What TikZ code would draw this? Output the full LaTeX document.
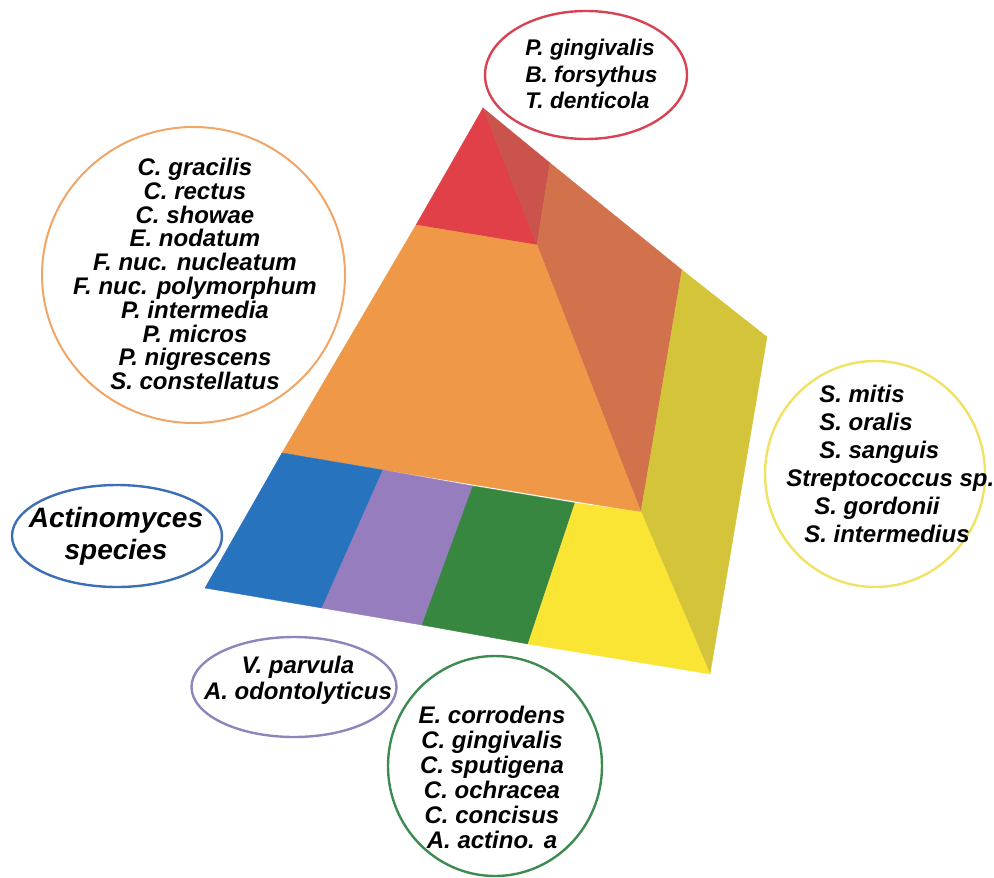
\documentclass[tikz,border=0pt]{standalone}
\usepackage{fontspec}
\setmainfont{Liberation Sans}
\usepackage{tikz}

\definecolor{topRed}{RGB}{225,64,72}
\definecolor{darkRed}{RGB}{202,84,76}
\definecolor{rustBrown}{RGB}{210,114,76}
\definecolor{midOrange}{RGB}{238,152,72}
\definecolor{oliveFace}{RGB}{212,196,58}
\definecolor{baseYellow}{RGB}{250,228,52}
\definecolor{baseBlue}{RGB}{40,115,190}
\definecolor{basePurple}{RGB}{150,125,190}
\definecolor{baseGreen}{RGB}{55,135,65}
\definecolor{ringRed}{RGB}{216,66,82}
\definecolor{ringOrange}{RGB}{241,165,102}
\definecolor{ringYellow}{RGB}{240,226,100}
\definecolor{ringBlue}{RGB}{61,111,182}
\definecolor{ringPurple}{RGB}{143,132,188}
\definecolor{ringGreen}{RGB}{62,139,82}

\begin{document}
\begin{tikzpicture}[x=0.75pt,y=0.75pt,yscale=-1,xscale=1,
  lbl/.style={inner sep=0.75pt, font={\fontsize{18}{#1}\selectfont\bfseries\itshape}},
  ring/.style={line width=1.8pt}]
%set diagram left start at 0, and has height of 877
\useasboundingbox (0,0) rectangle (994,877);

%Shape: Polygon [red top]
\filldraw[fill=topRed,draw=topRed,line width=0.3pt] (483,108) -- (537,245) -- (416,225) -- cycle ;
%Shape: Polygon [dark red top]
\filldraw[fill=darkRed,draw=darkRed,line width=0.3pt] (483,108) -- (550,163) -- (537,245) -- cycle ;
%Shape: Polygon [brown side]
\filldraw[fill=rustBrown,draw=rustBrown,line width=0.3pt] (550,163) -- (682,270) -- (641,512) -- (537,245) -- cycle ;
%Shape: Polygon [orange front]
\filldraw[fill=midOrange,draw=midOrange,line width=0.3pt] (416,225) -- (537,245) -- (641,512) -- (282,453) -- cycle ;
%Shape: Polygon [olive side]
\filldraw[fill=oliveFace,draw=oliveFace,line width=0.3pt] (682,270) -- (767,337) -- (710,674) -- (641,512) -- cycle ;
%Shape: Polygon [blue strip]
\filldraw[fill=baseBlue,draw=baseBlue,line width=0.3pt] (282,453) -- (383,470) -- (322,608) -- (205,588) -- cycle ;
%Shape: Polygon [purple strip]
\filldraw[fill=basePurple,draw=basePurple,line width=0.3pt] (383,470) -- (473,486) -- (422,625) -- (322,608) -- cycle ;
%Shape: Polygon [green strip]
\filldraw[fill=baseGreen,draw=baseGreen,line width=0.3pt] (473,486) -- (575,503) -- (528,644) -- (422,625) -- cycle ;
%Shape: Polygon [yellow strip]
\filldraw[fill=baseYellow,draw=baseYellow,line width=0.3pt] (575,503) -- (641,512) -- (710,674) -- (528,644) -- cycle ;

%Shape: Ellipse [red]
\draw[ring,ringRed] (586,75) ellipse (101 and 64) ;
%Shape: Ellipse [orange]
\draw[ring,ringOrange,line width=1.5pt] (193.5,275) ellipse (151.5 and 148) ;
%Shape: Ellipse [yellow]
\draw[ring,ringYellow] (875,474) ellipse (110 and 113) ;
%Shape: Ellipse [blue]
\draw[ring,ringBlue] (117,536) ellipse (105 and 51) ;
%Shape: Ellipse [purple]
\draw[ring,ringPurple] (294,687) ellipse (102.5 and 50) ;
%Shape: Ellipse [green]
\draw[ring,ringGreen] (495,766) ellipse (107 and 110) ;

% Text Node
\draw (524,74) node [inner sep=0.75pt,font={\fontsize{17}{20}\selectfont\bfseries\itshape},anchor=west,align=left] (redtxt) {P. gingivalis\\B. forsythus\\T. denticola};
% Text Node
\draw (195,274) node [lbl=17.85,align=center] (orangetxt) {C. gracilis\\C. rectus\\C. showae\\E. nodatum\\F. nuc. nucleatum\\F. nuc. polymorphum\\P. intermedia\\P. micros\\P. nigrescens\\S. constellatus};
% Text Node
\draw (785,464) node [lbl=21,anchor=west,align=left] (yellowtxt) {\hspace*{24.75pt}S. mitis\\\hspace*{24.75pt}S. oralis\\\hspace*{24.75pt}S. sanguis\\Streptococcus sp.\\\hspace*{21pt}S. gordonii\\\hspace*{13.5pt}S. intermedius};
% Text Node
\draw (116,536) node [inner sep=0.75pt,font={\fontsize{21}{24}\selectfont\bfseries\itshape},align=center] (bluetxt) {Actinomyces\\species};
% Text Node
\draw (298,680) node [lbl=19.5,align=center] (purpletxt) {V. parvula\\A. odontolyticus};
% Text Node
\draw (492,777) node [lbl=18.75,align=center] (greentxt) {E. corrodens\\C. gingivalis\\C. sputigena\\C. ochracea\\C. concisus\\A. actino. a};

\end{tikzpicture}
\end{document}
